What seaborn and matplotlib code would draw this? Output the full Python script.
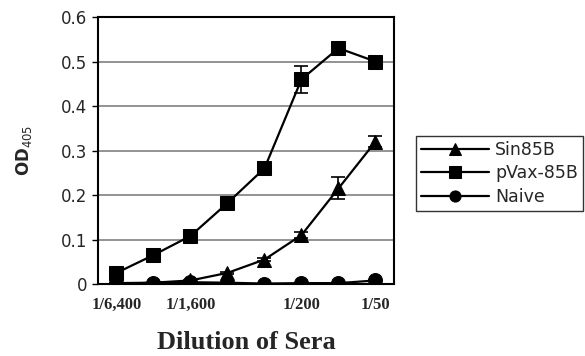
import matplotlib
matplotlib.use("Agg")
import matplotlib.pyplot as plt
import seaborn as sns
import pandas as pd
import numpy as np

dilutions = ["1/6,400", "1/3,200", "1/1,600", "1/800", "1/400", "1/200", "1/100", "1/50"]
shown_labels = ["1/6,400", "", "1/1,600", "", "", "1/200", "", "1/50"]
sin85b = [0.0, 0.003, 0.008, 0.025, 0.055, 0.11, 0.215, 0.32]
sin85b_err = [0.0, 0.0, 0.002, 0.003, 0.004, 0.006, 0.025, 0.012]
pvax = [0.025, 0.065, 0.108, 0.182, 0.26, 0.46, 0.53, 0.50]
pvax_err = [0.0, 0.0, 0.0, 0.0, 0.015, 0.031, 0.005, 0.005]
naive = [0.002, 0.003, 0.004, 0.003, 0.001, 0.002, 0.002, 0.008]
naive_err = [0.0, 0.0, 0.0, 0.0, 0.0, 0.0, 0.0, 0.002]
series_names = ["Sin85B", "pVax-85B", "Naive"]

sns.set_style("white")
plt.rcParams['font.family'] = ['DejaVu Sans']

fig = plt.figure(figsize=(5.85, 3.56), dpi=100)
ax = fig.add_axes([0.1675, 0.2022, 0.506, 0.75])

pos = np.arange(len(dilutions))
df = pd.DataFrame({
    "x": np.concatenate([pos, pos, pos]),
    "OD": sin85b + pvax + naive,
    "series": [series_names[0]] * 8 + [series_names[1]] * 8 + [series_names[2]] * 8,
})

for vals, errs in [(sin85b, sin85b_err), (pvax, pvax_err), (naive, naive_err)]:
    ax.errorbar(pos, vals, yerr=errs, fmt="none", ecolor="black", elinewidth=1.2,
                capsize=5, capthick=1.2, zorder=2)

sns.lineplot(data=df, x="x", y="OD", hue="series", style="series",
             palette=["black", "black", "black"],
             markers={"Sin85B": "^", "pVax-85B": "s", "Naive": "o"},
             dashes=False, markersize=10, linewidth=1.6, markeredgecolor="black",
             ax=ax, zorder=3, legend=True)

ax.set_xlim(-0.5, len(dilutions) - 0.5)
ax.set_ylim(0, 0.6)
ax.set_yticks([0, 0.1, 0.2, 0.3, 0.4, 0.5, 0.6])
ax.set_yticklabels(["0", "0.1", "0.2", "0.3", "0.4", "0.5", "0.6"], fontsize=12)
ax.set_xticks(pos)
ax.set_xticklabels(shown_labels, fontsize=12, fontweight="bold",
                   family=["Liberation Serif", "DejaVu Serif"])
ax.tick_params(axis="x", length=0, pad=9)
ax.tick_params(axis="y", length=4, width=1, direction="out", color="black", pad=4, left=True)
ax.yaxis.grid(True, color="#808080", linewidth=1.2)
ax.set_axisbelow(True)
for s in ax.spines.values():
    s.set_color("black")
    s.set_linewidth(1.5)

ax.set_xlabel("Dilution of Sera", fontsize=19, fontweight="bold",
              family=["Liberation Serif", "DejaVu Serif"])
ax.xaxis.set_label_coords(0.5, -0.175)
ax.set_ylabel(r"OD$_{405}$", fontsize=12, fontweight="bold")
ax.yaxis.set_label_coords(-0.215, 0.5)

h, l = ax.get_legend_handles_labels()
if ax.get_legend():
    ax.get_legend().remove()
leg = fig.legend(h, l, loc="upper left", bbox_to_anchor=(416 / 585, 1 - 136 / 356),
                 frameon=True, fancybox=False, edgecolor="black", fontsize=12.5,
                 handlelength=3.9, borderpad=0.3, labelspacing=0.3, handletextpad=0.35,
                 markerscale=0.8, borderaxespad=0)
leg.get_frame().set_linewidth(1.0)

fig.savefig("out.png", dpi=100)
